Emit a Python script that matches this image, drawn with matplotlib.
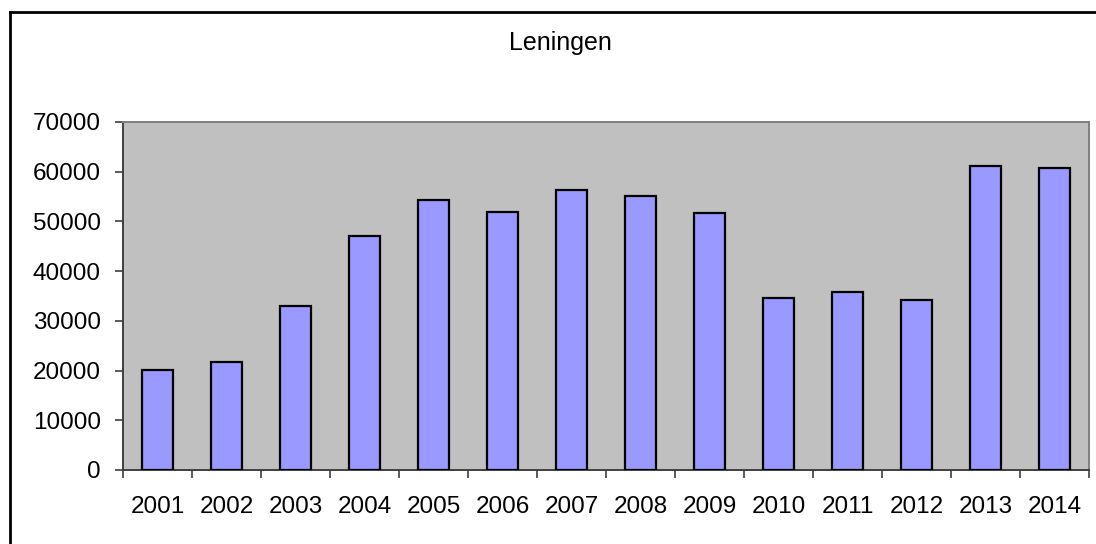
import numpy as np
import matplotlib.pyplot as plt
from matplotlib.lines import Line2D

jaren = ["2001", "2002", "2003", "2004", "2005", "2006", "2007",
         "2008", "2009", "2010", "2011", "2012", "2013", "2014"]
leningen = [20100, 21700, 33000, 47100, 54300, 51900, 56300,
            55200, 51600, 34600, 35800, 34200, 61200, 60800]
y_ticks = [0, 10000, 20000, 30000, 40000, 50000, 60000, 70000]

plt.rcParams["font.family"] = ["Liberation Sans", "DejaVu Sans"]

fig = plt.figure(figsize=(10.96, 5.44), dpi=100)
ax = fig.add_axes([123 / 1096, 1 - 470 / 544, 966 / 1096, 348 / 544])
ax.set_facecolor("#C0C0C0")

x = np.arange(len(jaren))
ax.bar(x, leningen, width=0.45, color="#9999FF", edgecolor="black",
       linewidth=1.6, zorder=3)

ax.set_xlim(-0.5, len(jaren) - 0.5)
ax.set_ylim(0, 70000)
ax.set_yticks(y_ticks)
ax.set_yticklabels([str(v) for v in y_ticks], fontsize=17.5)

# streepjes tussen de categorieen, labels in het midden
ax.set_xticks(np.arange(len(jaren) + 1) - 0.5)
ax.set_xticklabels([])
ax.set_xticks(x, minor=True)
ax.set_xticklabels(jaren, minor=True, fontsize=17.5)
ax.tick_params(axis="x", which="major", direction="out", length=6,
               width=1.2, color="#404040")
ax.tick_params(axis="x", which="minor", length=0, pad=19)
ax.tick_params(axis="y", direction="out", length=6, width=1.2,
               color="#404040", pad=10)

for side in ["left", "bottom"]:
    ax.spines[side].set_color("#404040")
    ax.spines[side].set_linewidth(1.4)
for side in ["top", "right"]:
    ax.spines[side].set_color("#808080")
    ax.spines[side].set_linewidth(1.4)

fig.text(560 / 1096, 1 - 43 / 544, "Leningen", fontsize=18,
         ha="center", va="center")

# rand van de grafiek (alleen links en boven zichtbaar)
fig.add_artist(Line2D([10 / 1096, 10 / 1096], [0, 1 - 12 / 544],
                      transform=fig.transFigure, color="black", lw=2))
fig.add_artist(Line2D([10 / 1096, 1], [1 - 12 / 544, 1 - 12 / 544],
                      transform=fig.transFigure, color="black", lw=2))

fig.savefig("out.png", dpi=100)
